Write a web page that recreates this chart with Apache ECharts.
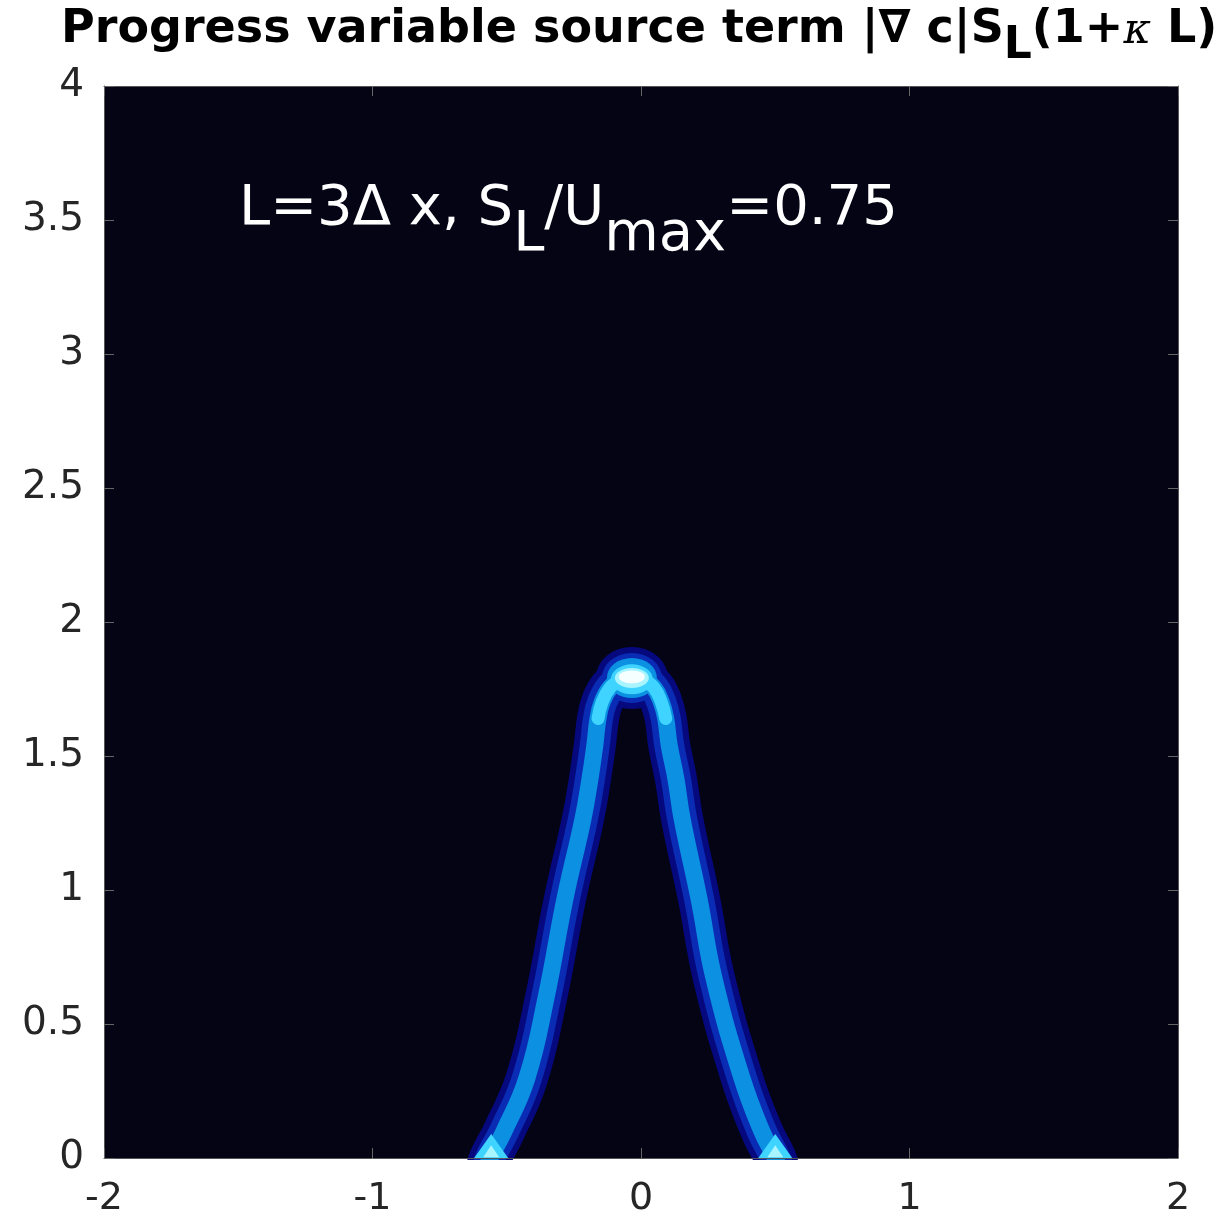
<!DOCTYPE html>
<html>
<head>
<meta charset="utf-8">
<script src="https://cdn.jsdelivr.net/npm/echarts@6/dist/echarts.min.js"></script>
<style>
html,body{margin:0;padding:0;background:#fff;}
#chart{width:1228px;height:1218px;}
</style>
</head>
<body>
<div id="chart"></div>
<script>
// Centerline of the flame-front band
const flameX = [-0.575, -0.562, -0.51, -0.425, -0.354, -0.283, -0.216, -0.19, -0.172, -0.160, -0.145, -0.115, -0.078, -0.034, 0.01, 0.048, 0.076, 0.092, 0.105, 0.13, 0.153, 0.216, 0.272, 0.376, 0.45, 0.50, 0.512];
const flameY = [-0.04, 0.0, 0.10, 0.298, 0.596, 0.968, 1.266, 1.415, 1.54, 1.64, 1.70, 1.755, 1.782, 1.79, 1.782, 1.755, 1.70, 1.64, 1.54, 1.415, 1.266, 0.968, 0.670, 0.298, 0.10, 0.0, -0.04];
// Bright peak of the source term at the flame tip
const apexX = [-0.034];
const apexY = [1.791];
// Bright spots at the flame base
const baseX = [-0.558, 0.50];
const baseY = [0.045, 0.045];
const xTicks = [-2, -1, 0, 1, 2];
const yTicks = [0, 0.5, 1, 1.5, 2, 2.5, 3, 3.5, 4];

const FONT = 'DejaVu Sans';
const band = flameX.map((x, i) => [x, flameY[i]]);
const tip = band.filter(p => p[1] >= 1.64);
const apex = apexX.map((x, i) => [x, apexY[i]]);
const base = baseX.map((x, i) => [x, baseY[i]]);

function bandLayer(data, width, color, z) {
  return {
    type: 'line', data: data, smooth: 0.45, showSymbol: false, clip: true,
    lineStyle: { width: width, color: color, cap: 'round', join: 'round' },
    z: z, silent: true
  };
}
function blob(data, size, color, z, symbol, dy) {
  return {
    type: 'scatter', data: data.map(p => [p[0], p[1] + (dy || 0)]),
    symbol: symbol || 'circle', symbolSize: size,
    itemStyle: { color: color, opacity: 1 }, z: z, silent: true
  };
}

const chart = echarts.init(document.getElementById('chart'), null, { renderer: 'canvas' });
const axisCommon = {
  z: 200,
  axisLine: { show: true, onZero: false, lineStyle: { color: '#555', width: 1 } },
  axisTick: { show: true, inside: true, length: 10, lineStyle: { color: '#666', width: 1 } },
  splitLine: { show: false }
};
chart.setOption({
  backgroundColor: '#ffffff',
  animation: false,
  title: [
    {
      left: 56, top: 2,
      text: '{b|Progress variable source term |∇ c|S}{s|L}{b|(1+}{k|κ}{b| L)}',
      textStyle: {
        rich: {
          b: { fontFamily: FONT, fontWeight: 'bold', fontSize: 46, color: '#000', lineHeight: 64, verticalAlign: 'top' },
          s: { fontFamily: FONT, fontWeight: 'bold', fontSize: 44, color: '#000', lineHeight: 64, verticalAlign: 'top', padding: [18, 0, 0, 0] },
          k: { fontFamily: 'DejaVu Serif', fontWeight: 'normal', fontStyle: 'italic', fontSize: 42, color: '#000', lineHeight: 64, verticalAlign: 'top', padding: [4, 0, 0, 0] }
        }
      }
    },
    {
      left: 234, top: 176,
      text: '{a|L=3Δ x, S}{s|L}{a|/U}{s|max}{a|=0.75}',
      textStyle: {
        fontWeight: 'normal',
        rich: {
          a: { fontFamily: FONT, fontWeight: 'normal', fontSize: 56, color: '#fff', lineHeight: 70, verticalAlign: 'top' },
          s: { fontFamily: FONT, fontWeight: 'normal', fontSize: 56, color: '#fff', lineHeight: 70, verticalAlign: 'top', padding: [26, 0, 0, 0] }
        }
      }
    }
  ],
  grid: { left: 104, right: 50, top: 86, bottom: 58, show: true, backgroundColor: '#050414', borderWidth: 0 },
  graphic: [
    { type: 'rect', left: 0, top: 1160, z: 100, shape: { width: 1228, height: 58 }, style: { fill: '#ffffff' }, silent: true }
  ],
  xAxis: [
    Object.assign({}, axisCommon, {
      type: 'value', position: 'bottom', min: xTicks[0], max: xTicks[xTicks.length - 1], interval: 1,
      axisLabel: { show: true, fontFamily: FONT, fontSize: 38, color: '#262626', margin: 22 }
    }),
    Object.assign({}, axisCommon, {
      type: 'value', position: 'top', min: xTicks[0], max: xTicks[xTicks.length - 1], interval: 1,
      axisLabel: { show: false }
    })
  ],
  yAxis: [
    Object.assign({}, axisCommon, {
      type: 'value', position: 'left', min: yTicks[0], max: yTicks[yTicks.length - 1], interval: 0.5,
      axisLabel: { show: true, fontFamily: FONT, fontSize: 39, color: '#262626', margin: 20 }
    }),
    Object.assign({}, axisCommon, {
      type: 'value', position: 'right', min: yTicks[0], max: yTicks[yTicks.length - 1], interval: 0.5,
      axisLabel: { show: false }
    })
  ],
  series: [
    bandLayer(band, 42, '#06087e', 2),
    blob(apex, [72, 62], '#06087e', 3),
    bandLayer(band, 30, '#0a2cb4', 4),
    blob(apex, [60, 50], '#0a2cb4', 5),
    bandLayer(band, 17, '#0b90e2', 6),
    blob(apex, [50, 40], '#0b90e2', 7),
    bandLayer(tip, 13, '#3fd4ff', 8),
    blob(apex, [42, 30], '#3fd4ff', 9, 'circle', -0.005),
    blob(apex, [34, 20], '#a8f4ff', 10, 'circle', 0.0),
    blob(apex, [26, 13], '#f6ffff', 11, 'circle', 0.004),
    blob(base, [34, 24], '#3fd4ff', 12, 'triangle'),
    blob(base, [16, 12], '#a8f4ff', 13, 'triangle', -0.02)
  ]
});
</script>
</body>
</html>
